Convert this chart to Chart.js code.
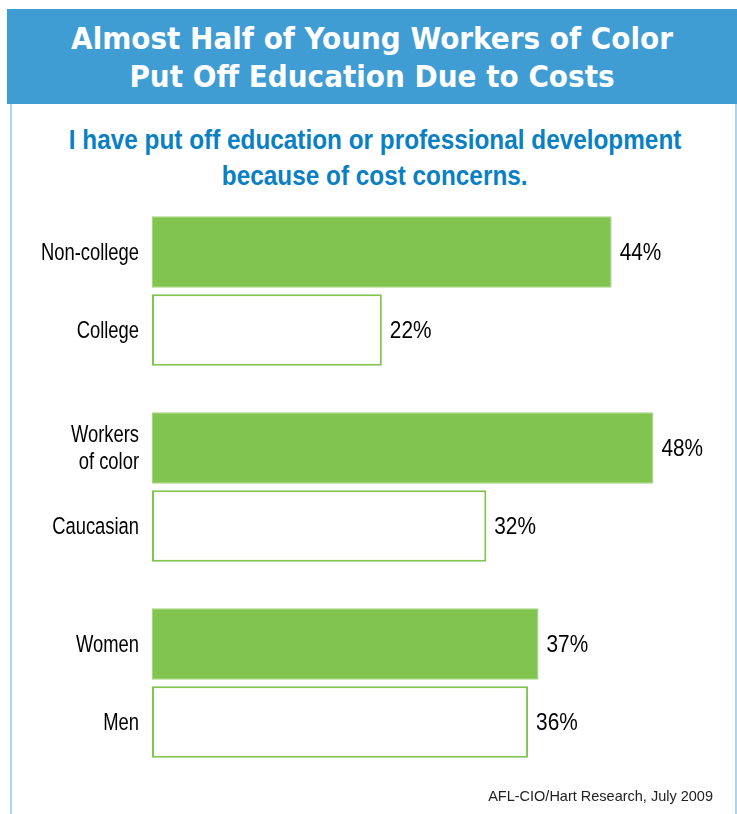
<!DOCTYPE html>
<html>
<head>
<meta charset="utf-8">
<script src="https://cdn.jsdelivr.net/npm/chart.js@4.4.1/dist/chart.umd.min.js"></script>
<style>
  html, body { margin: 0; padding: 0; background: #ffffff; }
  body { width: 737px; height: 814px; position: relative; overflow: hidden; }
  #frame { position: absolute; left: 10px; top: 9px; width: 723px; height: 805px;
           border-left: 2px solid #acd6f0; border-right: 2px solid #acd6f0; }
  #header { position: absolute; left: 7px; top: 9px; width: 730px; height: 95px; background: #3f9dd4;
            color: #ffffff; text-align: center;
            font-family: 'DejaVu Sans Condensed', 'DejaVu Sans', sans-serif;
            font-weight: bold; font-size: 31px; line-height: 38px; box-sizing: border-box; padding-top: 10px; }
  #subtitle { position: absolute; left: 10px; top: 122px; width: 730px; text-align: center;
              color: #0a80c4; font-family: 'Liberation Sans', Arial, sans-serif; font-weight: bold;
              font-size: 27.5px; line-height: 36px; }
  #subtitle span { display: inline-block; transform: scaleX(0.885); transform-origin: center; white-space: nowrap; }
  #source { position: absolute; right: 24px; top: 788px; font-family: 'Liberation Sans', Arial, sans-serif;
            font-size: 14.5px; color: #222; }
  #chart { position: absolute; left: 0; top: 180px; }
</style>
</head>
<body>
<div id="frame"></div>
<div id="header">Almost Half of Young Workers of Color<br>Put Off Education Due to Costs</div>
<div id="subtitle"><span>I have put off education or professional development</span><br><span>because of cost concerns.</span></div>
<canvas id="chart" width="737" height="620"></canvas>
<div id="source">AFL-CIO/Hart Research, July 2009</div>
<script>
const groups = ['Education', 'Race', 'Gender'];
const firstLabels = ['Non-college', ['Workers', 'of color'], 'Women'];
const secondLabels = ['College', 'Caucasian', 'Men'];
const firstValues = [44, 48, 37];
const secondValues = [22, 32, 36];

const GREEN = '#82c450';
const LABEL_FONT = "24.5px 'Liberation Sans', Arial, sans-serif";

function drawScaled(ctx, text, x, y, sx, align) {
  ctx.save();
  ctx.translate(x, y);
  ctx.scale(sx, 1);
  ctx.textAlign = align;
  ctx.fillText(text, 0, 0);
  ctx.restore();
}

const labelPlugin = {
  id: 'barLabels',
  afterDatasetsDraw(chart) {
    const ctx = chart.ctx;
    ctx.save();
    ctx.font = LABEL_FONT;
    ctx.fillStyle = '#000000';
    ctx.textBaseline = 'middle';
    const left = chart.chartArea.left;
    chart.data.datasets.forEach((ds, di) => {
      const meta = chart.getDatasetMeta(di);
      const names = di === 0 ? firstLabels : secondLabels;
      meta.data.forEach((el, i) => {
        drawScaled(ctx, ds.data[i] + '%', el.x + 8, el.y + 1, 0.85, 'left');
        const name = names[i];
        const lines = Array.isArray(name) ? name : [name];
        const lh = 27;
        const y0 = el.y - (lines.length - 1) * lh / 2;
        lines.forEach((ln, k) => drawScaled(ctx, ln, left - 13, y0 + k * lh + 1, 0.75, 'right'));
      });
    });
    ctx.restore();
  }
};

new Chart(document.getElementById('chart'), {
  type: 'bar',
  data: {
    labels: groups,
    datasets: [
      { label: 'First', data: firstValues, backgroundColor: GREEN, borderColor: '#a3d67e', borderWidth: 1,
        borderSkipped: false, categoryPercentage: 0.797, barPercentage: 0.917 },
      { label: 'Second', data: secondValues, backgroundColor: '#ffffff', borderColor: GREEN, borderWidth: 2,
        borderSkipped: false, categoryPercentage: 0.797, barPercentage: 0.917 }
    ]
  },
  options: {
    indexAxis: 'y',
    responsive: false,
    animation: false,
    layout: { padding: { left: 152, right: 0, top: 13, bottom: 19 } },
    plugins: { legend: { display: false }, tooltip: { enabled: false }, title: { display: false } },
    scales: {
      x: { display: false, min: 0, max: 56 },
      y: { display: false }
    }
  },
  plugins: [labelPlugin]
});
</script>
</body>
</html>
